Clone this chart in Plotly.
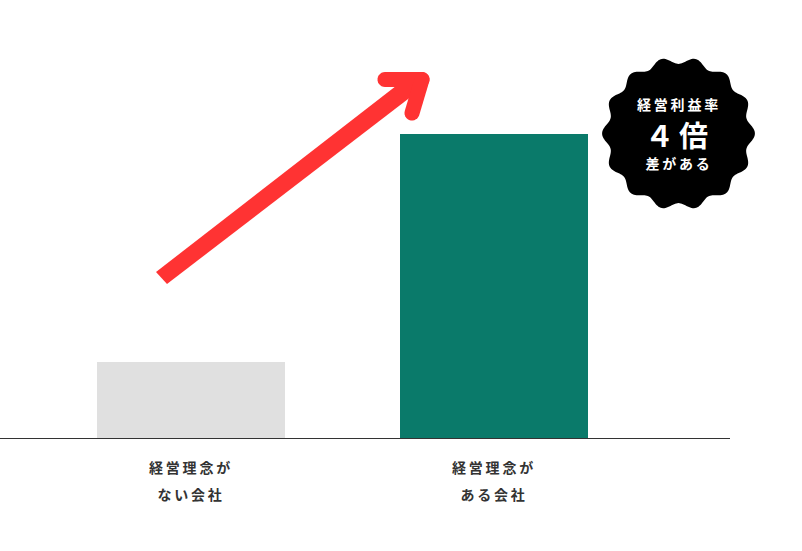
import numpy as np
import plotly.graph_objects as go

label_top = ["経営理念が", "経営理念が"]
label_bottom = ["ない会社", "ある会社"]
profit = [1, 4]
bar_colors = ["#e0e0e0", "#0a7a6a"]
badge_lines = ["経営利益率", "４倍", "差がある"]

W, H = 802, 551
BASE_Y = 438
TOP_Y = 134
RIGHT_X = 730
RED = "#ff3333"


# picture pixels -> paper fractions of the plot area
def fx(px):
    return px / RIGHT_X


def fy(py):
    return (BASE_Y - py) / (BASE_Y - TOP_Y)


def path_of(points):
    return "M " + " L ".join(f"{fx(x):.5f},{fy(y):.5f}" for x, y in points) + " Z"


def stadium(x0, y0, x1, y1, w):
    # thick stroke with rounded ends, as a polygon
    ang = np.arctan2(y1 - y0, x1 - x0)
    pts = []
    for t in np.linspace(ang + np.pi / 2, ang + 3 * np.pi / 2, 14):
        pts.append((x0 + w / 2 * np.cos(t), y0 + w / 2 * np.sin(t)))
    for t in np.linspace(ang - np.pi / 2, ang + np.pi / 2, 14):
        pts.append((x1 + w / 2 * np.cos(t), y1 + w / 2 * np.sin(t)))
    return dict(type="path", xref="paper", yref="paper", path=path_of(pts),
                fillcolor=RED, line_width=0, layer="above")


fig = go.Figure(go.Bar(x=[0, 1], y=profit, width=188 / 303, marker_color=bar_colors,
                       marker_line_width=0, hoverinfo="skip"))

# red arrow
shaft = [(156, 272), (167, 284), (425, 86), (414, 72)]
shapes = [
    dict(type="path", xref="paper", yref="paper", path=path_of(shaft),
         fillcolor=RED, line_width=0, layer="above"),
    stadium(385, 79.5, 422, 79.5, 15),
    stadium(422, 79.5, 412, 113, 15),
]

# scalloped black badge
theta = np.linspace(0, 2 * np.pi, 400, endpoint=False)
radius = 73 + 3.4 * np.cos(14 * (theta - np.pi / 2 + np.pi / 14))
badge = list(zip(678.5 + radius * np.cos(theta), 133.5 - radius * np.sin(theta)))
shapes.append(dict(type="path", xref="paper", yref="paper", path=path_of(badge),
                   fillcolor="#000000", line_width=0, layer="above"))

jp = "Noto Sans CJK JP"
annotations = []
for i in range(2):
    for text, py in [(label_top[i], 467), (label_bottom[i], 494)]:
        annotations.append(dict(x=i, y=fy(py), xref="x", yref="paper", text=text, showarrow=False,
                                xanchor="center", yanchor="middle",
                                font=dict(family=jp, size=14, color="#333333", weight=700)))
for text, py, size in zip(badge_lines, [104, 134, 163], [14, 29, 14]):
    annotations.append(dict(x=fx(678.5), y=fy(py), xref="paper", yref="paper", text=text, showarrow=False,
                            xanchor="center", yanchor="middle",
                            font=dict(family=jp, size=size, color="#ffffff", weight=700)))

fig.update_layout(
    width=W, height=H,
    margin=dict(l=0, r=W - RIGHT_X, t=TOP_Y, b=H - BASE_Y, pad=0),
    paper_bgcolor="white", plot_bgcolor="white",
    showlegend=False,
    shapes=shapes,
    annotations=annotations,
)
fig.update_xaxes(range=[-191 / 303, (RIGHT_X - 191) / 303], showgrid=False, zeroline=False,
                 showticklabels=False, ticks="", showline=True, linecolor="#333333", linewidth=1)
fig.update_yaxes(range=[0, 4], visible=False)

css = """
document.body.style.margin = '0';
var s = document.createElement('style');
s.textContent = '.annotation-text{letter-spacing:2.8px}'
  + '.annotation[data-index="5"] .annotation-text{letter-spacing:5px}';
document.head.appendChild(s);
"""
fig.write_html("out.html", post_script=css, config={"displayModeBar": False})
